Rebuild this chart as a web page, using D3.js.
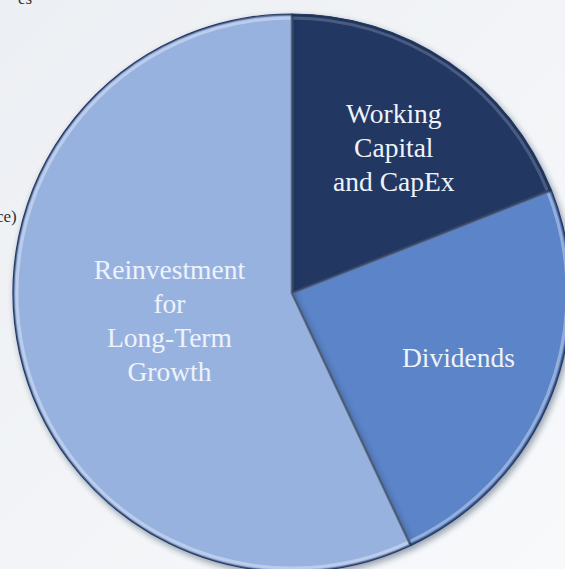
<!DOCTYPE html>
<html>
<head>
<meta charset="utf-8">
<script src="https://cdn.jsdelivr.net/npm/d3@7"></script>
<style>
	html, body { margin: 0; padding: 0; background: #f1f3f6; overflow: hidden; }
	svg { display: block; }
	.label { font-family: "Liberation Serif", "DejaVu Serif", serif; font-size: 27.5px; fill: #eef3fb; text-anchor: middle; }
	.cut { font-family: "Liberation Serif", serif; font-size: 17px; fill: #333; }
</style>
</head>
<body>
<svg id="chart" width="565" height="569"></svg>
<script>
// slice data, clockwise from 12 o'clock
var categories = ["Working Capital and CapEx", "Dividends", "Reinvestment for Long-Term Growth"];
var shares = [19, 24, 57];
var labelLines = [
	["Working", "Capital", "and CapEx"],
	["Dividends"],
	["Reinvestment", "for", "Long-Term", "Growth"]
];
var sliceColors = ["#213963", "#5b84c8", "#98b2e0"];

window.addEventListener("load", function () {
	var width = 565, height = 569;
	var cx = 292, cy = 293, radius = 279;

	var svg = d3.select("#chart");
	var defs = svg.append("defs");

	// soft page background
	var bg = defs.append("linearGradient").attr("id", "bg")
		.attr("x1", 0).attr("y1", 0).attr("x2", 1).attr("y2", 1);
	bg.append("stop").attr("offset", "0%").attr("stop-color", "#eceff3");
	bg.append("stop").attr("offset", "100%").attr("stop-color", "#f8f9fb");
	svg.append("rect").attr("width", width).attr("height", height).attr("fill", "url(#bg)");

	// clipped text from the slide behind the chart
	svg.append("text").attr("class", "cut").attr("x", 18).attr("y", 4).text("es");
	svg.append("text").attr("class", "cut").attr("x", -4).attr("y", 222).text("ce)");

	var shadow = defs.append("filter").attr("id", "shadow")
		.attr("x", "-10%").attr("y", "-10%").attr("width", "130%").attr("height", "130%");
	shadow.append("feDropShadow").attr("dx", 2).attr("dy", 3).attr("stdDeviation", 3)
		.attr("flood-color", "#1a2a4a").attr("flood-opacity", 0.45);

	var pie = d3.pie().sort(null).value(function (d) { return d; });
	var arcs = pie(shares);

	var arc = d3.arc().innerRadius(0).outerRadius(radius);
	// inset arc for the bevel highlight
	var bevel = d3.arc().innerRadius(0).outerRadius(radius - 4);

	var g = svg.append("g").attr("transform", "translate(" + cx + "," + cy + ")");

	arcs.forEach(function (d, i) {
		defs.append("clipPath").attr("id", "clip" + i)
			.append("path").attr("d", arc(d));
	});

	g.selectAll("path.slice")
		.data(arcs)
		.enter().append("path")
		.attr("class", "slice")
		.attr("d", arc)
		.attr("fill", function (d, i) { return sliceColors[i]; })
		.attr("stroke", "#2b3f66")
		.attr("stroke-width", 1.2)
		.attr("filter", "url(#shadow)");

	// bevel: light inner rim, darker outer edge
	g.selectAll("path.rim")
		.data(arcs)
		.enter().append("path")
		.attr("class", "rim")
		.attr("d", bevel)
		.attr("clip-path", function (d, i) { return "url(#clip" + i + ")"; })
		.attr("fill", "none")
		.attr("stroke", "#ffffff")
		.attr("stroke-opacity", function (d, i) { return i == 0 ? 0.18 : 0.35; })
		.attr("stroke-width", 3);

	g.selectAll("path.edge")
		.data(arcs)
		.enter().append("path")
		.attr("class", "edge")
		.attr("d", arc)
		.attr("clip-path", function (d, i) { return "url(#clip" + i + ")"; })
		.attr("fill", "none")
		.attr("stroke", "#1c2d52")
		.attr("stroke-opacity", 0.5)
		.attr("stroke-width", 3);

	// label anchors: centroid on an inner ring, the big slice sits closer to the centre
	var labelArc = d3.arc().innerRadius(radius * 0.63).outerRadius(radius * 0.63);
	var bigLabelArc = d3.arc().innerRadius(radius * 0.45).outerRadius(radius * 0.45);
	var lineHeight = 34;
	arcs.forEach(function (d, i) {
		var pos = (i == 2 ? bigLabelArc : labelArc).centroid(d);
		var lines = labelLines[i];
		var t = g.append("text").attr("class", "label")
			.attr("transform", "translate(" + (pos[0] + (i == 2 ? 0 : 3)) + "," + pos[1] + ")");
		lines.forEach(function (line, j) {
			t.append("tspan")
				.attr("x", 0)
				.attr("y", (j - (lines.length - 1) / 2) * lineHeight)
				.attr("dy", "0.35em")
				.text(line);
		});
	});
});
</script>
</body>
</html>
